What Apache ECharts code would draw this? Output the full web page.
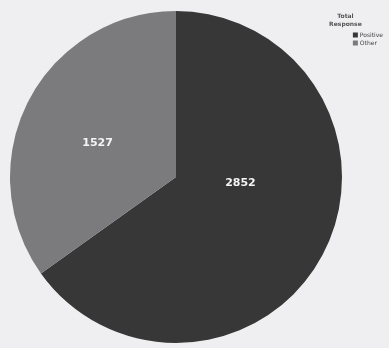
<!DOCTYPE html>
<html><head><meta charset="utf-8">
<script src="https://cdn.jsdelivr.net/npm/echarts@6/dist/echarts.min.js"></script>
<style>html,body{margin:0;padding:0;background:#efeff1}#c{width:389px;height:348px}</style>
</head><body><div id="c"></div>
<script>
const categories = ["Positive", "Other"];
const values = [2852, 1527];
const colors = ["#373738", "#7b7b7d"];
const legendTitle = "Total\nResponse";

const chart = echarts.init(document.getElementById('c'), null, {renderer: 'canvas'});
const labelOffsets = [[-12, -33], [-2, 5]];
chart.setOption({
  backgroundColor: '#efeff1',
  animation: false,
  title: {
    text: legendTitle, right: 6, top: 7,
    textStyle: {fontSize: 6, fontWeight: 'bold', color: '#555', lineHeight: 8, fontFamily: 'DejaVu Sans'},
    textAlign: 'center'
  },
  legend: {
    orient: 'vertical', right: 1, top: 27,
    itemWidth: 5, itemHeight: 5, itemGap: 2,
    textStyle: {fontSize: 6, color: '#444', fontFamily: 'DejaVu Sans', padding: [0,0,0,-3]},
    icon: 'rect',
    data: categories
  },
  series: [{
    type: 'pie',
    center: [176, 177],
    radius: 166,
    startAngle: 90,
    clockwise: true,
    data: categories.map((c, i) => ({name: c, value: values[i], itemStyle: {color: colors[i]}, label: {offset: labelOffsets[i]}})),
    label: {
      show: true, position: 'inside',
      formatter: '{c}',
      color: '#f4f4f4', fontSize: 11, fontWeight: 'bold', fontFamily: 'DejaVu Sans'
    },
    labelLine: {show: false},
    itemStyle: {borderWidth: 0}
  }]
});
</script></body></html>
